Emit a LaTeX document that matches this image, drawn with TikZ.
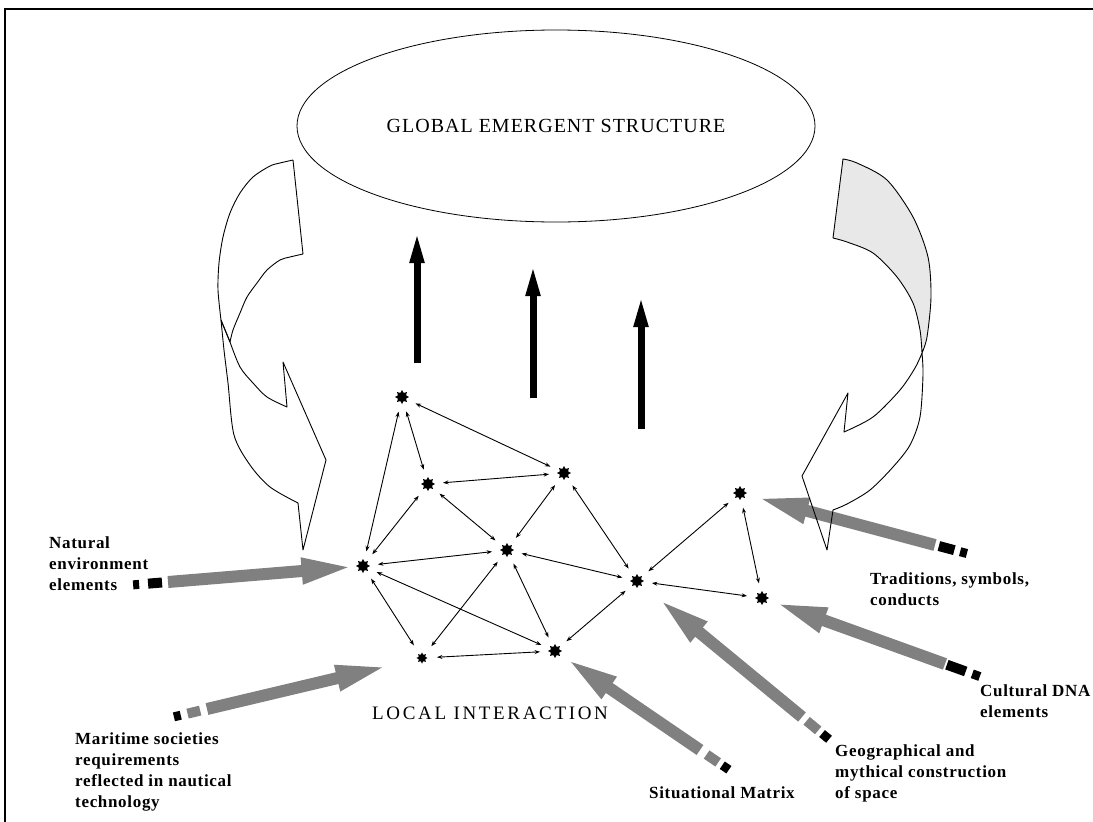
\documentclass[tikz,border=0pt]{standalone}
\usepackage{fontspec}
\setmainfont{Liberation Serif}
\newfontfamily\lblfont[LetterSpace=4]{Liberation Serif}
\newfontfamily\capfont[LetterSpace=5]{Liberation Serif}
\newfontfamily\locfont[LetterSpace=14]{Liberation Serif}
\usetikzlibrary{arrows.meta,shapes.geometric,calc}
\definecolor{arrgray}{RGB}{128,128,128}
\definecolor{bandgray}{RGB}{232,232,232}
\begin{document}
\begin{tikzpicture}[x=1pt,y=-1pt,
  starnode/.style={star, star points=8, star point ratio=1.6, fill=black, draw=none, minimum size=14pt, inner sep=0pt},
  smallstar/.style={starnode, minimum size=11pt},
  link/.style={line width=0.9pt, {Stealth[length=5.5pt,width=4pt]}-{Stealth[length=5.5pt,width=4pt]}, shorten >=15pt, shorten <=15pt},
  uparrow/.style={line width=7pt, -{Triangle[length=32pt,width=13pt]}},
  gshaft/.style={line width=12pt, draw=arrgray, -{Triangle[length=54pt,width=23pt]}},
  nearblk/.style={line width=10pt},
  farblk/.style={line width=9pt},
  band/.style={line width=0.9pt, line join=round},
  lbl/.style={anchor=north west, inner sep=0pt, align=left, font=\lblfont\bfseries\fontsize{17}{21}\selectfont},
]
\useasboundingbox (0,0) rectangle (1093,822);
% frame
\draw[line width=1.2pt] (5,822) -- (5,9) -- (1093,9);

% global ellipse
\node[draw, ellipse, line width=0.8pt, minimum width=518pt, minimum height=192pt, inner sep=0pt,
      font=\capfont\fontsize{20}{24}\selectfont] (glob) at (556,126) {GLOBAL EMERGENT STRUCTURE};

% left curved band (upper piece)
\draw[band] (293,160) -- (303,254)
  -- plot[smooth] coordinates {(303,254) (290,257) (280,260) (267,270) (257,283) (247,297) (240,313) (233,330) (230,342)}
  -- (221,320)
  -- plot[smooth] coordinates {(221,320) (218,290) (219,263) (223,237) (230,213) (240,193) (253,177) (270,166) (280,163) (293,160)};
% left curved band (lower piece with head)
\draw[band] plot[smooth] coordinates {(221,320) (224,350) (228,383) (234,435) (250,465) (270,487) (298,503)}
  -- (303,550) -- (326,460) -- (283,362) -- (287,407)
  -- plot[smooth] coordinates {(287,407) (267,397) (253,383) (240,367) (230,342)}
  -- cycle;

% right curved band (upper shaded piece)
\draw[band, fill=bandgray] (843,159) -- (833,238)
  -- plot[smooth] coordinates {(833,238) (847,242) (873,253) (897,277) (913,303) (920,330) (922,353)}
  -- plot[smooth] coordinates {(922,353) (927,337) (931,297) (928,257) (913,217) (887,180) (857,163) (843,159)}
  -- cycle;

% black upward arrows
\coordinate (u1s) at (417,363); \coordinate (u1e) at (417,231);
\coordinate (u2s) at (533,398); \coordinate (u2e) at (533,264);
\coordinate (u3s) at (641,429); \coordinate (u3e) at (641,295);
\draw[uparrow] (u1s) -- (u1e);
\draw[uparrow] (u2s) -- (u2e);
\draw[uparrow] (u3s) -- (u3e);

% star nodes
\node[starnode] (A) at (402,397) {};
\node[starnode] (B) at (428,484) {};
\node[starnode] (C) at (564,473) {};
\node[starnode] (D) at (363,566) {};
\node[starnode] (E) at (507,550) {};
\node[starnode] (F) at (637,581) {};
\node[smallstar] (G) at (422,658) {};
\node[starnode] (H) at (555,651) {};
\node[starnode] (I) at (740,493) {};
\node[starnode] (J) at (762,598) {};

% network links
\foreach \p/\q in {A/C, A/B, A/D, B/C, B/D, B/E, C/E, C/F, D/E, D/G, D/H, E/G, E/H, G/H, H/F, E/F, F/I, I/J, F/J}
  \draw[link] (\p.center) -- (\q.center);

% grey input arrows: tail coordinates
\coordinate (tNat) at (168,582);
\coordinate (tMar) at (207,709);
\coordinate (tSit) at (700,750);
\coordinate (tGeo) at (802,717);
\coordinate (tCul) at (945,664);
\coordinate (tTra) at (935,545);

\draw[gshaft, shorten >=1pt] (tNat) -- (D);
\draw[nearblk, black] ($(tNat)!-6pt!(D)$) -- ($(tNat)!-20pt!(D)$);
\draw[farblk, black] ($(tNat)!-29pt!(D)$) -- ($(tNat)!-35pt!(D)$);

\draw[gshaft, shorten >=29pt] (tMar) -- (G);
\draw[nearblk, arrgray] ($(tMar)!-7pt!(G)$) -- ($(tMar)!-20pt!(G)$);
\draw[farblk, black] ($(tMar)!-27pt!(G)$) -- ($(tMar)!-34pt!(G)$);

\draw[gshaft, shorten >=6pt] (tSit) -- (H);
\draw[nearblk, arrgray] ($(tSit)!-8pt!(H)$) -- ($(tSit)!-22pt!(H)$);
\draw[farblk, black] ($(tSit)!-27pt!(H)$) -- ($(tSit)!-35pt!(H)$);

\draw[gshaft, shorten >=20pt] (tGeo) -- (F);
\draw[nearblk, arrgray] ($(tGeo)!-6pt!(F)$) -- ($(tGeo)!-21pt!(F)$);
\draw[farblk, black] ($(tGeo)!-26pt!(F)$) -- ($(tGeo)!-35pt!(F)$);

\draw[gshaft, shorten >=7pt] (tCul) -- (J);
\draw[nearblk, black] ($(tCul)!-2pt!(J)$) -- ($(tCul)!-22pt!(J)$);
\draw[farblk, black] ($(tCul)!-29pt!(J)$) -- ($(tCul)!-37pt!(J)$);

\draw[gshaft, shorten >=10pt] (tTra) -- (I);
\draw[nearblk, black] ($(tTra)!-4pt!(I)$) -- ($(tTra)!-20pt!(I)$);
\draw[farblk, black] ($(tTra)!-26pt!(I)$) -- ($(tTra)!-33pt!(I)$);

% right curved band (lower piece with head), drawn over the grey arrow
\draw[band] plot[smooth] coordinates {(922,353) (923,375) (920,417) (910,445) (893,467) (870,490) (847,504) (833,510)}
  -- (827,550) -- (802,476) -- (848,393) -- (844,432)
  -- plot[smooth] coordinates {(844,432) (873,417) (900,390) (915,368) (922,353)};

% labels
\node[lbl] (lNat) at (49,536) {Natural\\environment\\elements};
\node[lbl] (lMar) at (75,732) {Maritime societies\\requirements\\reflected in nautical\\technology};
\node[lbl] (lTra) at (870,572) {Traditions, symbols,\\conducts};
\node[lbl] (lCul) at (980,684) {Cultural DNA\\elements};
\node[lbl] (lGeo) at (835,744) {Geographical and\\mythical construction\\of space};
\node[lbl] (lSit) at (649,786) {Situational Matrix};
\node[anchor=north west, inner sep=0pt, font=\locfont\fontsize{19}{23}\selectfont] (loc) at (372,707) {LOCAL INTERACTION};
\end{tikzpicture}
\end{document}
